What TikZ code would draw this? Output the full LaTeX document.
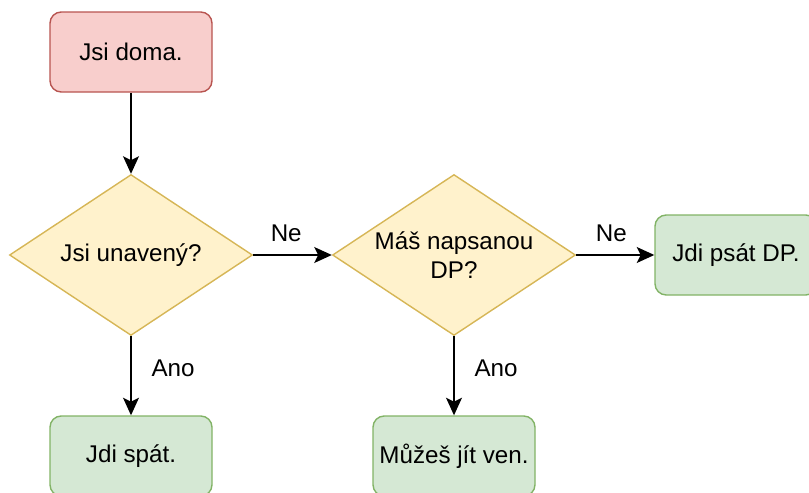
\documentclass[tikz,border=0pt]{standalone}
\usepackage{fontspec}
\setmainfont{Liberation Sans}
\usepackage{tikz}
\usetikzlibrary{shapes.geometric,arrows.meta}

\definecolor{redfill}{HTML}{F8CECC}
\definecolor{redline}{HTML}{B85450}
\definecolor{yellowfill}{HTML}{FFF2CC}
\definecolor{yellowline}{HTML}{D6B656}
\definecolor{greenfill}{HTML}{D5E8D4}
\definecolor{greenline}{HTML}{82B366}

\begin{document}
\begin{tikzpicture}[
            font=\fontsize{17.2}{21}\selectfont,
            box/.style={rectangle,rounded corners=0.28cm,line width=1pt,
                minimum width=4.05cm,minimum height=2cm,inner sep=0pt,align=center},
            startbox/.style={box,draw=redline,fill=redfill},
            endbox/.style={box,draw=greenline,fill=greenfill},
            decision/.style={diamond,aspect=1.5,draw=yellowline,fill=yellowfill,line width=1pt,
                minimum width=6.075cm,minimum height=4.025cm,inner sep=0pt,align=center},
            flow/.style={line width=1pt,-{Stealth[length=0.44cm,width=0.4cm,inset=0.1cm]}}
        ]
            \useasboundingbox (0, 0) rectangle (20.225, -12.325);

            \node [startbox] (doma) at (3.275, -1.3) {Jsi doma.};
            \node [decision] (unaveny) at (3.275, -6.375) {Jsi unavený?};
            \node [decision] (napsano) at (11.35, -6.375) {Máš napsanou\\DP?};
            \node [endbox] (psat) at (18.4, -6.375) {Jdi psát DP.};
            \node [endbox] (spat) at (3.275, -11.4) {Jdi spát.};
            \node [endbox] (ven) at (11.35, -11.4) {Můžeš jít ven.};

            \draw [flow] (doma) -- (unaveny);
            \draw [flow] (unaveny) -- node [pos=0.42, above=0.2cm] {Ne} (napsano);
            \draw [flow] (napsano) -- node [pos=0.45, above=0.2cm] {Ne} (psat);
            \draw [flow] (unaveny) -- node [pos=0.4, right=0.38cm] {Ano} (spat);
            \draw [flow] (napsano) -- node [pos=0.4, right=0.38cm] {Ano} (ven);
        \end{tikzpicture}
\end{document}
